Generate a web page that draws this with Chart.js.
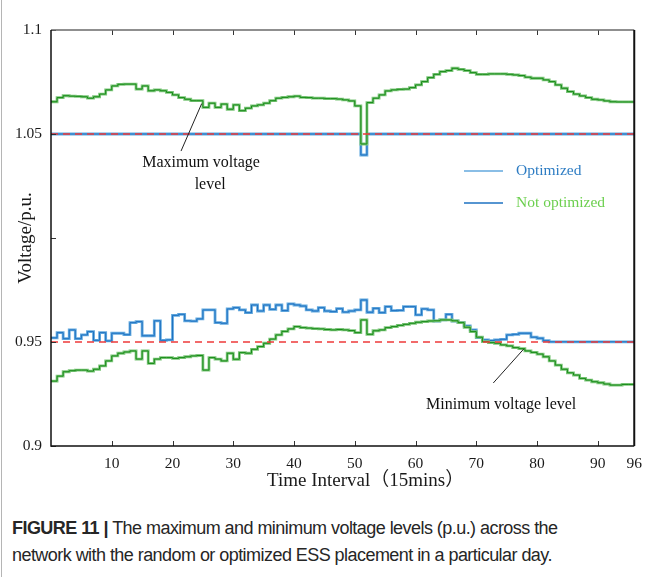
<!DOCTYPE html>
<html>
<head>
<meta charset="utf-8">
<script src="https://cdn.jsdelivr.net/npm/chart.js@4.4.0/dist/chart.umd.min.js"></script>
<style>
html, body { margin: 0; padding: 0; background: #fff; }
#wrap { position: relative; width: 651px; height: 577px; overflow: hidden; background: #fff; }
#chartBox { position: absolute; left: 0; top: 0; width: 651px; height: 492px; }
#caption { position: absolute; left: 12px; top: 515px; font-family: "Liberation Sans", Arial, sans-serif;
  font-size: 18px; line-height: 27px; color: #262626; letter-spacing: -0.55px; white-space: nowrap; }
#edgeL { position: absolute; left: 1px; top: 0; width: 1px; height: 577px; background: #b5b5b5; }
</style>
</head>
<body>
<div id="wrap">
  <div id="edgeL"></div>
  <div id="chartBox"><canvas id="volt_chart"></canvas></div>
  <div id="caption"><b>FIGURE 11 |</b> The maximum and minimum voltage levels (p.u.) across the<br>network with the random or optimized ESS placement in a particular day.</div>
</div>
<script>
// x tick values / labels (time interval, 15 mins)
var xTicks = [10, 20, 30, 40, 50, 60, 70, 80, 90, 96];
var xTickLabels = ['10', '20', '30', '40', '50', '60', '70', '80', '90', '96'];
var yTicks = [0.9, 0.95, 1.0, 1.05, 1.1];
var yTickLabels = ['0.9', '0.95', '', '1.05', '1.1'];

var upperLimit = 1.05;
var lowerLimit = 0.95;

// maximum voltage, not optimized (green, top)
var maxNotOpt = [1.0655, 1.0675, 1.0684, 1.0682, 1.0681, 1.0679, 1.0672, 1.0679, 1.0692, 1.0712,
  1.0731, 1.0739, 1.0740, 1.0740, 1.0716, 1.0731, 1.0708, 1.0712, 1.0708, 1.0700,
  1.0688, 1.0675, 1.0667, 1.0660, 1.0660, 1.0628, 1.0648, 1.0628, 1.0644, 1.0619,
  1.0640, 1.0612, 1.0624, 1.0635, 1.0640, 1.0648, 1.0660, 1.0672, 1.0676, 1.0679,
  1.0682, 1.0676, 1.0675, 1.0672, 1.0672, 1.0670, 1.0670, 1.0668, 1.0664, 1.0659,
  1.0635, 1.0452, 1.0651, 1.0672, 1.0688, 1.0707, 1.0712, 1.0715, 1.0716, 1.0723,
  1.0736, 1.0752, 1.0771, 1.0787, 1.0800, 1.0805, 1.0816, 1.0811, 1.0805, 1.0795,
  1.0787, 1.0787, 1.0789, 1.0789, 1.0789, 1.0787, 1.0784, 1.0781, 1.0773, 1.0768,
  1.0768, 1.0760, 1.0752, 1.0736, 1.0720, 1.0704, 1.0692, 1.0683, 1.0675, 1.0667,
  1.0664, 1.0659, 1.0655, 1.0654, 1.0654, 1.0654];

// maximum voltage, optimized (blue, top)
var maxOpt = [1.05, 1.05, 1.05, 1.05, 1.05, 1.05, 1.05, 1.05, 1.05, 1.05,
  1.05, 1.05, 1.05, 1.05, 1.05, 1.05, 1.05, 1.05, 1.05, 1.05,
  1.05, 1.05, 1.05, 1.05, 1.05, 1.05, 1.05, 1.05, 1.05, 1.05,
  1.05, 1.05, 1.05, 1.05, 1.05, 1.05, 1.05, 1.05, 1.05, 1.05,
  1.05, 1.05, 1.05, 1.05, 1.05, 1.05, 1.05, 1.05, 1.05, 1.05,
  1.05, 1.0399, 1.05, 1.05, 1.05, 1.05, 1.05, 1.05, 1.05, 1.05,
  1.05, 1.05, 1.05, 1.05, 1.05, 1.05, 1.05, 1.05, 1.05, 1.05,
  1.05, 1.05, 1.05, 1.05, 1.05, 1.05, 1.05, 1.05, 1.05, 1.05,
  1.05, 1.05, 1.05, 1.05, 1.05, 1.05, 1.05, 1.05, 1.05, 1.05,
  1.05, 1.05, 1.05, 1.05, 1.05, 1.05];

// minimum voltage, optimized (blue, bottom)
var minOpt = [0.9520, 0.9545, 0.9516, 0.9558, 0.9516, 0.9534, 0.9550, 0.9508, 0.9545, 0.9505,
  0.9542, 0.9542, 0.9535, 0.9593, 0.9598, 0.9530, 0.9530, 0.9602, 0.9508, 0.9510,
  0.9628, 0.9633, 0.9602, 0.9600, 0.9611, 0.9654, 0.9654, 0.9593, 0.9590, 0.9659,
  0.9665, 0.9654, 0.9641, 0.9678, 0.9649, 0.9678, 0.9657, 0.9678, 0.9651, 0.9683,
  0.9678, 0.9673, 0.9654, 0.9649, 0.9665, 0.9649, 0.9646, 0.9660, 0.9644, 0.9649,
  0.9654, 0.9702, 0.9643, 0.9662, 0.9641, 0.9670, 0.9651, 0.9652, 0.9670, 0.9670,
  0.9630, 0.9659, 0.9654, 0.9600, 0.9606, 0.9633, 0.9601, 0.9593, 0.9578, 0.9558,
  0.9521, 0.9510, 0.9507, 0.9510, 0.9513, 0.9534, 0.9537, 0.9542, 0.9542, 0.9523,
  0.9518, 0.9506, 0.9501, 0.9501, 0.9501, 0.9501, 0.9501, 0.9501, 0.9501, 0.9501,
  0.9501, 0.9501, 0.9501, 0.9501, 0.9501, 0.9501];

// minimum voltage, not optimized (green, bottom)
var minNotOpt = [0.9312, 0.9336, 0.9357, 0.9362, 0.9365, 0.9365, 0.9360, 0.9369, 0.9385, 0.9409,
  0.9433, 0.9446, 0.9452, 0.9457, 0.9418, 0.9457, 0.9397, 0.9418, 0.9425, 0.9425,
  0.9421, 0.9425, 0.9429, 0.9433, 0.9435, 0.9365, 0.9425, 0.9418, 0.9409, 0.9446,
  0.9417, 0.9449, 0.9446, 0.9465, 0.9478, 0.9494, 0.9514, 0.9534, 0.9551, 0.9563,
  0.9574, 0.9569, 0.9567, 0.9564, 0.9563, 0.9560, 0.9558, 0.9560, 0.9558, 0.9555,
  0.9545, 0.9606, 0.9537, 0.9554, 0.9558, 0.9569, 0.9574, 0.9580, 0.9585, 0.9590,
  0.9595, 0.9598, 0.9601, 0.9602, 0.9606, 0.9606, 0.9602, 0.9593, 0.9571, 0.9550,
  0.9523, 0.9502, 0.9497, 0.9494, 0.9486, 0.9481, 0.9473, 0.9468, 0.9457, 0.9450,
  0.9442, 0.9429, 0.9409, 0.9389, 0.9369, 0.9352, 0.9341, 0.9325, 0.9317, 0.9309,
  0.9304, 0.9298, 0.9293, 0.9293, 0.9296, 0.9296];

var legendNames = ['Optimized', 'Not optimized'];
var xTitle = 'Time Interval（15mins）';

var serif = '"Liberation Serif", "Times New Roman", "Noto Sans CJK SC", serif';
var greenDark = '#178a17', greenLight = '#7cc67a';
var blueDark = '#1e72c2', blueLight = '#63a9de';

// stairs: value i holds from interval i to i+1
function ToSteps(vals) {
    var pts = [];
    for (var i = 0; i < vals.length; i++) {
        pts.push({ x: i, y: vals[i] });
    }
    pts.push({ x: vals.length, y: vals[vals.length - 1] });
    return pts;
}

function LimitLine(v) {
    return [{ x: 0, y: v }, { x: 96, y: v }];
}

function StepSet(vals, color, width, order) {
    return {
        data: ToSteps(vals), stepped: true, borderColor: color, backgroundColor: color,
        borderWidth: width, pointRadius: 0, fill: false, order: order
    };
}

// annotation text + leader lines, in data coordinates
var notes = [
    { text: 'Maximum voltage', x: 24.7, y: 1.036, from: [24.8, 1.0646], to: [21.4, 1.0418] },
    { text: 'level', x: 26.2, y: 1.0258 },
    { text: 'Minimum voltage level', x: 74.1, y: 0.9197, from: [72.8, 0.9303], to: [77.8, 0.9466] }
];

var extras = {
    id: 'extras',
    afterDraw: function (chart) {
        var ctx = chart.ctx, ca = chart.chartArea;
        var xs = chart.scales.x, ys = chart.scales.y;
        ctx.save();
        // inward ticks
        ctx.strokeStyle = '#333';
        ctx.lineWidth = 1;
        xTicks.forEach(function (t) {
            var px = Math.round(xs.getPixelForValue(t)) + 0.5;
            ctx.beginPath();
            ctx.moveTo(px, ca.bottom); ctx.lineTo(px, ca.bottom - 5);
            ctx.moveTo(px, ca.top); ctx.lineTo(px, ca.top + 5);
            ctx.stroke();
        });
        yTicks.forEach(function (t) {
            var py = Math.round(ys.getPixelForValue(t)) + 0.5;
            ctx.beginPath();
            ctx.moveTo(ca.left, py); ctx.lineTo(ca.left + 5, py);
            ctx.stroke();
        });
        // frame
        ctx.strokeStyle = '#6a6a6a';
        ctx.lineWidth = 1.5;
        ctx.beginPath(); ctx.moveTo(ca.left, ca.top); ctx.lineTo(ca.right, ca.top); ctx.stroke();
        ctx.strokeStyle = '#111';
        ctx.lineWidth = 2;
        ctx.beginPath(); ctx.moveTo(ca.right, ca.top); ctx.lineTo(ca.right, ca.bottom); ctx.stroke();
        ctx.lineWidth = 1.5;
        ctx.beginPath();
        ctx.moveTo(ca.left, ca.top); ctx.lineTo(ca.left, ca.bottom); ctx.lineTo(ca.right, ca.bottom);
        ctx.stroke();

        // x axis title (sits right of centre in the original)
        ctx.fillStyle = '#1a1a1a';
        ctx.font = '19px ' + serif;
        ctx.textAlign = 'center';
        ctx.textBaseline = 'middle';
        ctx.fillText(xTitle, (ca.left + ca.right) / 2 + 23, ca.bottom + 35);

        // legend
        var legendLines = [blueLight, blueDark];
        var legendText = ['#2d7cc3', '#6ccf4e'];
        ctx.font = '15.5px ' + serif;
        ctx.textAlign = 'left';
        for (var i = 0; i < legendNames.length; i++) {
            var ly = ca.top + 141 + i * 32;
            ctx.strokeStyle = legendLines[i];
            ctx.lineWidth = 1.3;
            ctx.beginPath(); ctx.moveTo(ca.left + 413, ly); ctx.lineTo(ca.left + 452, ly); ctx.stroke();
            ctx.fillStyle = legendText[i];
            ctx.fillText(legendNames[i], ca.left + 465, ly);
        }

        // notes
        ctx.fillStyle = '#111';
        ctx.textAlign = 'center';
        ctx.font = '16px ' + serif;
        notes.forEach(function (n) {
            ctx.fillText(n.text, xs.getPixelForValue(n.x), ys.getPixelForValue(n.y));
            if (n.from) {
                ctx.strokeStyle = '#222';
                ctx.lineWidth = 1;
                ctx.beginPath();
                ctx.moveTo(xs.getPixelForValue(n.from[0]), ys.getPixelForValue(n.from[1]));
                ctx.lineTo(xs.getPixelForValue(n.to[0]), ys.getPixelForValue(n.to[1]));
                ctx.stroke();
            }
        });
        ctx.restore();
    }
};

function InitializeGraph() {
    var ctx = document.getElementById('volt_chart');

    var data = {
        datasets: [
            { data: LimitLine(upperLimit), borderColor: '#ee3a3a', borderWidth: 1.6, borderDash: [7, 5], pointRadius: 0, order: 0 },
            { data: LimitLine(lowerLimit), borderColor: '#ee3a3a', borderWidth: 1.6, borderDash: [7, 5], pointRadius: 0, order: 0 },
            StepSet(maxNotOpt, greenDark, 1, 1),
            StepSet(maxNotOpt, greenLight, 2.8, 2),
            StepSet(minNotOpt, greenDark, 1, 1),
            StepSet(minNotOpt, greenLight, 2.8, 2),
            StepSet(maxOpt, blueDark, 1, 3),
            StepSet(maxOpt, blueLight, 2.8, 4),
            StepSet(minOpt, blueDark, 1, 3),
            StepSet(minOpt, blueLight, 2.8, 4)
        ]
    };

    var tickFont = { family: serif, size: 15.5 };

    new Chart(ctx, {
        type: 'scatter',
        data: data,
        options: {
            responsive: true,
            maintainAspectRatio: false,
            animation: false,
            showLine: true,
            layout: { padding: { left: 0, right: 14, top: 30, bottom: 0 } },
            plugins: { legend: { display: false }, tooltip: { enabled: false } },
            scales: {
                x: {
                    type: 'linear', min: 0, max: 96,
                    grid: { display: false, drawTicks: false },
                    border: { display: false },
                    afterBuildTicks: function (s) { s.ticks = xTicks.map(function (v) { return { value: v }; }); },
                    afterFit: function (s) { s.height = 46; },
                    ticks: {
                        autoSkip: false, maxRotation: 0, padding: 9, color: '#1a1a1a', font: tickFont,
                        callback: function (v, i) { return xTickLabels[i]; }
                    }
                },
                y: {
                    type: 'linear', min: 0.9, max: 1.1,
                    grid: { display: false, drawTicks: false },
                    border: { display: false },
                    afterBuildTicks: function (s) { s.ticks = yTicks.map(function (v) { return { value: v }; }); },
                    afterFit: function (s) { s.width = 51; },
                    ticks: {
                        autoSkip: false, padding: 9, color: '#1a1a1a', font: tickFont,
                        callback: function (v, i) { return yTickLabels[i]; }
                    },
                    title: {
                        display: true, text: 'Voltage/p.u.', color: '#1a1a1a',
                        font: { family: serif, size: 19 }, padding: { top: 15, bottom: 0 }
                    }
                }
            }
        },
        plugins: [extras]
    });
}

InitializeGraph();
</script>
</body>
</html>
